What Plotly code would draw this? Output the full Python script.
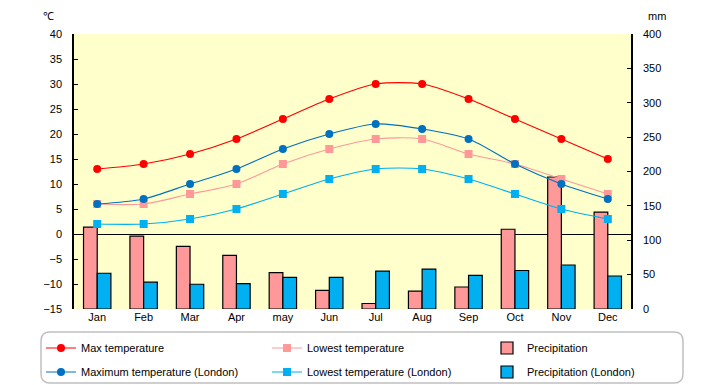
import plotly.graph_objects as go

months = ["Jan", "Feb", "Mar", "Apr", "may", "Jun", "Jul", "Aug", "Sep", "Oct", "Nov", "Dec"]
max_temp = [13, 14, 16, 19, 23, 27, 30, 30, 27, 23, 19, 15]
low_temp = [6, 6, 8, 10, 14, 17, 19, 19, 16, 14, 11, 8]
precip = [119, 106, 91, 78, 53, 27, 8, 26, 32, 116, 192, 141]
max_temp_london = [6, 7, 10, 13, 17, 20, 22, 21, 19, 14, 10, 7]
low_temp_london = [2, 2, 3, 5, 8, 11, 13, 13, 11, 8, 5, 3]
precip_london = [52, 39, 36, 37, 46, 46, 55, 58, 49, 56, 64, 48]

temp_ticks = list(range(-15, 41, 5))
precip_ticks = list(range(0, 401, 50))

FONT = "Liberation Sans"

# the page body has an 8px margin; the figure is sized so it fits the 720x385 window
OFF = 8
W, H = 720 - OFF, 385 - OFF
# plot area in page pixels: x 74..631, y 34..309
L, T = 74 - OFF, 34 - OFF
R, B = W - (631 - OFF), H - (309 - OFF)
pw, ph = W - L - R, H - T - B


def px_x(x):  # page px -> paper
    return (x - OFF - L) / pw


def px_y(y):
    return (H - B - (y - OFF)) / ph


fig = go.Figure()


def line(name, y, color, symbol, legend):
    return go.Scatter(
        x=months, y=y, name=name, yaxis="y2", mode="lines+markers", legend=legend,
        line=dict(color=color, width=1.2, shape="spline", smoothing=0.8),
        marker=dict(color=color, size=8, symbol=symbol),
    )


def bar(name, y, color, legend):
    return go.Bar(
        x=months, y=y, name=name, yaxis="y", legend=legend,
        marker=dict(color=color, line=dict(color="black", width=1.2)),
    )


fig.add_trace(line("Max temperature", max_temp, "#FF0000", "circle", "legend"))
fig.add_trace(line("Lowest temperature", low_temp, "#FF9999", "square", "legend2"))
fig.add_trace(bar("Precipitation", precip, "#FF9999", "legend3"))
fig.add_trace(line("Maximum temperature (London)", max_temp_london, "#0070C0", "circle", "legend4"))
fig.add_trace(line("Lowest temperature (London)", low_temp_london, "#00B0F0", "square", "legend5"))
fig.add_trace(bar("Precipitation (London)", precip_london, "#00B0F0", "legend6"))

# rounded legend frame (page px)
x0, x1, y0, y1, r = 41, 683, 332, 383, 9
rx, ry = r / pw, r / ph
X0, X1, Y0, Y1 = px_x(x0), px_x(x1), px_y(y0), px_y(y1)
path = (f"M {X0+rx},{Y0} L {X1-rx},{Y0} Q {X1},{Y0} {X1},{Y0-ry} "
        f"L {X1},{Y1+ry} Q {X1},{Y1} {X1-rx},{Y1} L {X0+rx},{Y1} "
        f"Q {X0},{Y1} {X0},{Y1+ry} L {X0},{Y0-ry} Q {X0},{Y0} {X0+rx},{Y0} Z")


def legend_cfg(text_x, ycenter):
    return dict(
        orientation="h", xref="container", yref="container",
        x=(text_x - 41 - OFF) / W, y=1 - (ycenter - OFF) / H,
        xanchor="left", yanchor="middle", itemwidth=30,
        bgcolor="rgba(0,0,0,0)", borderwidth=0,
        font=dict(family=FONT, size=11, color="black"),
    )


fig.update_layout(
    width=W, height=H,
    margin=dict(l=L, r=R, t=T, b=B, pad=0, autoexpand=False),
    paper_bgcolor="white", plot_bgcolor="#FFFFCC",
    font=dict(family=FONT, size=11, color="black"),
    barmode="group", bargap=0.41, bargroupgap=0,
    showlegend=True,
    legend=legend_cfg(82, 348),
    legend2=legend_cfg(308, 348),
    legend3=legend_cfg(528, 348),
    legend4=legend_cfg(82, 372),
    legend5=legend_cfg(308, 372),
    legend6=legend_cfg(528, 372),
    xaxis=dict(
        type="category", range=[-0.5, len(months) - 0.5], autorange=False,
        showgrid=False, showline=False, ticks="",
        tickfont=dict(family=FONT, size=11),
    ),
    yaxis=dict(
        side="right", range=[0, 400], tickvals=precip_ticks, showgrid=False,
        showline=True, linecolor="black", linewidth=1.5, ticks="inside",
        ticklen=4, tickcolor="black", zeroline=False, ticklabelstandoff=8,
    ),
    yaxis2=dict(
        side="left", overlaying="y", range=[-15, 40], tickvals=temp_ticks,
        showgrid=False, showline=True, linecolor="black", linewidth=1.5,
        ticks="inside", ticklen=4, tickcolor="black",
        zeroline=True, zerolinecolor="black", zerolinewidth=1.2,
        ticklabelstandoff=8,
    ),
    shapes=[dict(type="path", xref="paper", yref="paper", path=path,
                 line=dict(color="#C0C0C0", width=1.5), fillcolor="rgba(0,0,0,0)")],
    annotations=[
        dict(text="℃", xref="paper", yref="paper", x=px_x(48), y=px_y(16),
             xanchor="center", yanchor="middle",
             showarrow=False, font=dict(family=FONT, size=11)),
        dict(text="mm", xref="paper", yref="paper", x=px_x(657), y=px_y(16),
             xanchor="center", yanchor="middle",
             showarrow=False, font=dict(family=FONT, size=11)),
    ],
)

fig.write_html("out.html")
